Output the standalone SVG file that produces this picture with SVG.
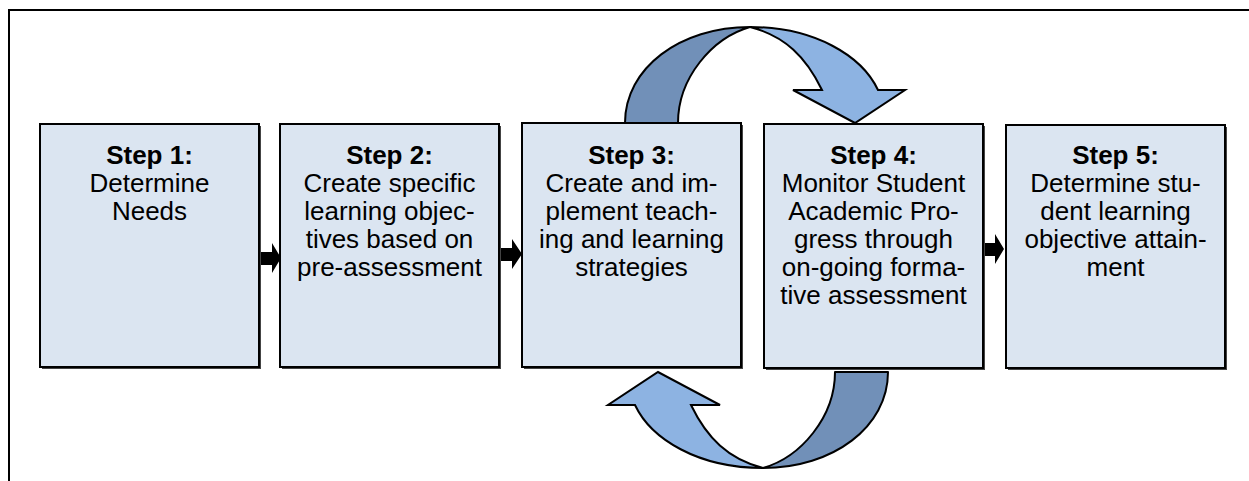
<svg xmlns="http://www.w3.org/2000/svg" width="1249" height="481" viewBox="0 0 1249 481">
<style>
.box{fill:#dbe5f1;stroke:#000;stroke-width:2}
.shadow{fill:#444}
.t{font-family:"Liberation Sans",Arial,sans-serif;font-size:26px;fill:#000;text-anchor:middle}
.b{font-weight:bold}
.blk{fill:#000}
.dark{fill:#7190b8;stroke:#000;stroke-width:2;stroke-linejoin:round}
.light{fill:#8db3e2;stroke:#000;stroke-width:2;stroke-linejoin:miter}
.frame{fill:none;stroke:#000;stroke-width:2}
</style>
<rect width="1249" height="481" fill="#fff"/>
<path class="frame" d="M9,481 V10 H1249"/>
<g id="connectors">
  <g id="curve-top">
    <path class="dark" d="M625,123 C625,68 680,27 750,27 C712,38 678,78 678,123 Z"/>
    <path class="light" d="M750,27 C815,27 862,56 878,90 L905,90 L855,123 L793,90 L822,90 C806,57 785,36 750,27 Z"/>
  </g>
  <g id="curve-bottom">
    <path class="dark" d="M888,372 C888,427 833,468 763,468 C801,457 835,417 835,372 Z"/>
    <path class="light" d="M763,468 C698,468 651,439 635,405 L608,405 L658,372 L720,405 L691,405 C707,438 728,459 763,468 Z"/>
  </g>
  <path class="blk" d="M259,252 H272 V243 L281,258 L272,273 V265 H259 Z"/>
  <path class="blk" d="M499,248 H512 V239 L522,254 L512,269 V261 H499 Z"/>
  <path class="blk" d="M984,243 H995 V234 L1004,249 L995,264 V256 H984 Z"/>
</g>
<g id="step1">
  <rect class="shadow" x="42" y="126" width="219" height="243"/>
  <rect class="box" x="40" y="124" width="219" height="243"/>
  <text class="t b" x="149.5" y="164">Step 1:</text>
  <text class="t" x="149.5" y="192">Determine</text>
  <text class="t" x="149.5" y="220">Needs</text>
</g>
<g id="step2">
  <rect class="shadow" x="282" y="126" width="219" height="243"/>
  <rect class="box" x="280" y="124" width="219" height="243"/>
  <text class="t b" x="389.5" y="164">Step 2:</text>
  <text class="t" x="389.5" y="192">Create specific</text>
  <text class="t" x="389.5" y="220">learning objec-</text>
  <text class="t" x="389.5" y="248">tives based on</text>
  <text class="t" x="389.5" y="276">pre-assessment</text>
</g>
<g id="step3">
  <rect class="shadow" x="524" y="125" width="219" height="244"/>
  <rect class="box" x="522" y="123" width="219" height="244"/>
  <text class="t b" x="631.5" y="164">Step 3:</text>
  <text class="t" x="631.5" y="192">Create and im-</text>
  <text class="t" x="631.5" y="220">plement teach-</text>
  <text class="t" x="631.5" y="248">ing and learning</text>
  <text class="t" x="631.5" y="276">strategies</text>
</g>
<g id="step4">
  <rect class="shadow" x="766" y="126" width="219" height="244"/>
  <rect class="box" x="764" y="124" width="219" height="244"/>
  <text class="t b" x="873.5" y="164">Step 4:</text>
  <text class="t" x="873.5" y="192">Monitor Student</text>
  <text class="t" x="873.5" y="220">Academic Pro-</text>
  <text class="t" x="873.5" y="248">gress through</text>
  <text class="t" x="873.5" y="276">on-going forma-</text>
  <text class="t" x="873.5" y="304">tive assessment</text>
</g>
<g id="step5">
  <rect class="shadow" x="1008" y="127" width="219" height="243"/>
  <rect class="box" x="1006" y="125" width="219" height="243"/>
  <text class="t b" x="1115.5" y="164">Step 5:</text>
  <text class="t" x="1115.5" y="192">Determine stu-</text>
  <text class="t" x="1115.5" y="220">dent learning</text>
  <text class="t" x="1115.5" y="248">objective attain-</text>
  <text class="t" x="1115.5" y="276">ment</text>
</g>
</svg>
